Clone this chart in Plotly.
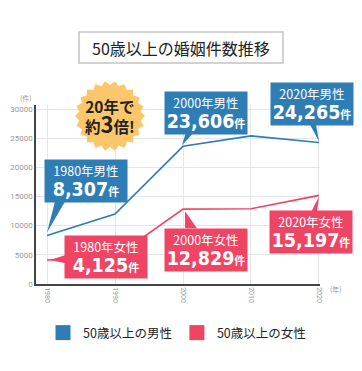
import math
import plotly.graph_objects as go

years = [1980, 1990, 2000, 2010, 2020]
male = [8307, 12000, 23606, 25400, 24265]
female = [4125, 4600, 12829, 12900, 15197]
series_names = ["50歳以上の男性", "50歳以上の女性"]
y_ticks = [0, 5000, 10000, 15000, 20000, 25000, 30000]

BLUE = "#2e7db4"
RED = "#ef4565"
W, H = 362, 371
L, R, T, B = 36, 42, 105, 87
PW, PH = W - L - R, H - T - B
JP = "Noto Sans CJK JP"
NUM = "'DejaVu Sans Condensed', Roboto, sans-serif"


def px(xp):
    return (xp - L) / PW


def py(yp):
    return (H - B - yp) / PH


fig = go.Figure()
fig.add_trace(go.Scatter(x=years, y=male, mode="lines", line=dict(color=BLUE, width=1.6),
                         showlegend=False, cliponaxis=False, hoverinfo="skip"))
fig.add_trace(go.Scatter(x=years, y=female, mode="lines", line=dict(color=RED, width=1.6),
                         showlegend=False, cliponaxis=False, hoverinfo="skip"))
for name, col in zip(series_names, [BLUE, RED]):
    fig.add_trace(go.Scatter(x=[None], y=[None], mode="markers", name=name,
                             marker=dict(symbol="square", size=15, color=col)))

shapes = []
annotations = []

# callouts: (index, series, label, color, dx, dy, tail)
callouts = [
    (0, "male", "1980年男性", BLUE, 38.5, 55, [(0, 3), (8, 34), (18, 34)]),
    (2, "male", "2000年男性", BLUE, 23, 33, [(-1, 1), (3, 14), (11, 14)]),
    (4, "male", "2020年男性", BLUE, -7, 38, [(0, 1), (-9, 18), (-3, 18)]),
    (0, "female", "1980年女性", RED, 59, 3, [(3, 0), (22, 6), (22, -4)]),
    (2, "female", "2000年女性", RED, 23, -41, [(2, -2), (2, -19), (14, -19)]),
    (4, "female", "2020年女性", RED, -8, -37, [(0, -1), (-8, -17), (-2, -17)]),
]
for idx, ser, lab, col, dx, dy, tail in callouts:
    vals = male if ser == "male" else female
    xv, yv = years[idx], vals[idx]
    path = "M {} {} L {} {} L {} {} Z".format(tail[0][0], tail[0][1], tail[1][0], tail[1][1],
                                              tail[2][0], tail[2][1])
    shapes.append(dict(type="path", xref="x", yref="y", xsizemode="pixel", ysizemode="pixel",
                       xanchor=xv, yanchor=yv, path=path, fillcolor=col, line=dict(width=0),
                       layer="above"))
    num = f"{yv:,}"
    text = (f"<span style='font-size:12.5px'>{lab}</span><br>"
            f"<span style=\"font-family:{NUM};font-size:19.5px\"><b>{num}</b></span>"
            f"<span style='font-size:11px'><b>件</b></span>")
    annotations.append(dict(x=xv, y=yv, xref="x", yref="y", showarrow=False,
                            xanchor="center", yanchor="middle",
                            xshift=dx, yshift=dy, text=text, width=80, height=40,
                            bgcolor=col, borderpad=1, align="center", valign="middle",
                            font=dict(family=JP, color="white", size=16)))

# starburst badge
n = 22
pts = []
for i in range(2 * n):
    r = 35 if i % 2 == 0 else 31
    a = math.pi * i / n
    pts.append((r * math.cos(a), r * math.sin(a)))
spath = "M " + " L ".join(f"{x:.2f} {y:.2f}" for x, y in pts) + " Z"
shapes.append(dict(type="path", xref="paper", yref="paper", xsizemode="pixel", ysizemode="pixel",
                   xanchor=px(110), yanchor=py(116), path=spath, fillcolor="#fcc66b",
                   line=dict(width=0), layer="above"))
annotations.append(dict(x=px(110), y=py(117), xref="paper", yref="paper", showarrow=False,
                        xanchor="center", yanchor="middle",
                        text="<b>20年で</b><br><b>約<span style='font-size:22px'>3</span>倍!</b>",
                        font=dict(family=JP, size=15.5, color="#222"), align="center"))

# title box
shapes.append(dict(type="rect", xref="paper", yref="paper", x0=px(79), x1=px(283),
                   y0=py(63), y1=py(32), line=dict(color="#c4c4c4", width=1.5),
                   fillcolor="white"))
annotations.append(dict(x=px(181), y=py(47.5), xref="paper", yref="paper", showarrow=False,
                        xanchor="center", yanchor="middle",
                        text="50歳以上の婚姻件数推移", font=dict(family=JP, size=16, color="#222")))

annotations.append(dict(x=px(26), y=py(98), xref="paper", yref="paper", showarrow=False,
                        xanchor="center", yanchor="middle",
                        text="(件)", font=dict(family=JP, size=7, color="#999")))
annotations.append(dict(x=px(336), y=py(289), xref="paper", yref="paper", showarrow=False,
                        xanchor="center", yanchor="middle",
                        text="(年)", font=dict(family=JP, size=7, color="#999")))

fig.update_layout(
    width=W, height=H,
    margin=dict(l=L, r=R, t=T, b=B, autoexpand=False),
    paper_bgcolor="white", plot_bgcolor="white",
    shapes=shapes, annotations=annotations,
    showlegend=True, hovermode=False,
    legend=dict(orientation="h", x=px(177), xanchor="center",
                y=py(333), yanchor="middle", font=dict(family=JP, size=12.5, color="#222"),
                itemwidth=30),
    xaxis=dict(range=[1978.38, 2020.15], tickvals=years, ticktext=[str(y) for y in years],
               tickangle=90, tickfont=dict(family="Roboto", size=7, color="#999"),
               showgrid=True, gridcolor="#e6e6e6", gridwidth=1, showline=True,
               linecolor="#444", linewidth=1.5, zeroline=False, ticks="", fixedrange=True),
    yaxis=dict(range=[0, 30690], tickvals=y_ticks, ticktext=[str(v) for v in y_ticks],
               tickfont=dict(family="Roboto", size=8, color="#999"),
               showgrid=True, gridcolor="#e6e6e6", gridwidth=1, showline=True,
               linecolor="#444", linewidth=1.5, zeroline=False, ticks="", fixedrange=True),
)

fig.write_html("out.html", post_script="document.body.style.margin='0';",
               config={"displayModeBar": False})
